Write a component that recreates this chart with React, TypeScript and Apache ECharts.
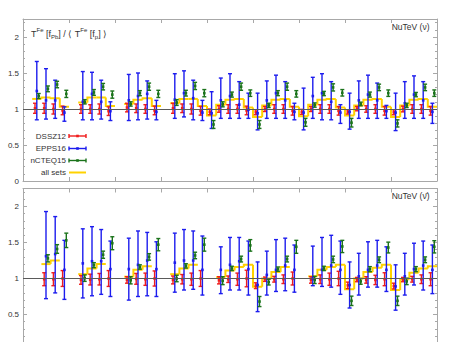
import React, { useEffect, useRef } from "react";
import * as echarts from "echarts";

// ---------- NuTeV (nu) panel ----------
const nuX = [0.3, 0.5, 0.7, 0.9, 1.3, 1.5, 1.7, 1.9, 2.3, 2.5, 2.7, 2.9, 3.3, 3.5, 3.7, 3.9, 4.1, 4.3, 4.5, 4.7, 4.9, 5.1, 5.3, 5.5, 5.7, 5.9, 6.1, 6.3, 6.5, 6.7, 6.9, 7.1, 7.3, 7.5, 7.7, 7.9, 8.1, 8.3, 8.5, 8.7, 8.9];
const nuRedVal = [1.01, 1.01, 1.0, 0.98, 1.0, 1.0, 1.0, 0.97, 1.02, 1.01, 1.0, 0.98, 1.01, 1.01, 1.0, 0.975, 0.96, 1.0, 1.0, 1.0, 0.98, 0.955, 1.0, 1.0, 1.0, 0.975, 0.96, 1.0, 1.0, 1.0, 0.975, 0.96, 1.005, 1.0, 1.0, 0.975, 0.955, 1.0, 1.0, 1.0, 0.975];
const nuRedErr = [0.07, 0.07, 0.07, 0.06, 0.06, 0.06, 0.07, 0.06, 0.06, 0.06, 0.06, 0.06, 0.07, 0.06, 0.07, 0.06, 0.04, 0.045, 0.06, 0.06, 0.06, 0.035, 0.035, 0.06, 0.06, 0.06, 0.035, 0.035, 0.06, 0.06, 0.06, 0.03, 0.03, 0.045, 0.06, 0.06, 0.035, 0.04, 0.06, 0.06, 0.06];
const nuBlueVal = [1.25, 1.12, 1.12, 0.95, 1.10, 1.21, 1.10, 0.97, 1.12, 1.18, 1.21, 0.96, 1.13, 1.22, 1.15, 0.95, 0.94, 1.12, 1.18, 1.06, 0.99, 0.94, 1.12, 1.22, 1.12, 0.96, 0.95, 1.18, 1.22, 1.10, 0.95, 0.96, 1.12, 1.20, 1.12, 0.97, 0.95, 1.08, 1.20, 1.12, 0.96];
const nuBlueLo = [0.85, 0.86, 0.87, 0.83, 0.85, 0.85, 0.86, 0.84, 0.84, 0.85, 0.86, 0.85, 0.87, 0.89, 0.85, 0.84, 0.73, 0.87, 0.87, 0.87, 0.87, 0.71, 0.87, 0.87, 0.87, 0.85, 0.71, 0.87, 0.85, 0.85, 0.80, 0.72, 0.87, 0.87, 0.87, 0.87, 0.70, 0.87, 0.87, 0.87, 0.80];
const nuBlueHi = [1.66, 1.56, 1.40, 1.03, 1.52, 1.51, 1.40, 1.10, 1.48, 1.50, 1.39, 1.12, 1.49, 1.53, 1.40, 1.12, 1.24, 1.43, 1.49, 1.38, 1.22, 1.22, 1.39, 1.47, 1.38, 1.08, 1.29, 1.44, 1.49, 1.38, 1.06, 1.22, 1.39, 1.47, 1.36, 1.05, 1.22, 1.38, 1.46, 1.38, 1.08];
const nuGreenVal = [1.18, 1.28, 1.34, 1.21, 1.10, 1.23, 1.31, 1.20, 1.07, 1.22, 1.31, 1.21, 1.09, 1.22, 1.32, 1.22, 0.785, 1.065, 1.20, 1.31, 1.22, 0.785, 1.05, 1.22, 1.31, 1.21, 0.815, 1.055, 1.215, 1.30, 1.225, 0.81, 1.07, 1.20, 1.30, 1.22, 0.80, 1.05, 1.20, 1.30, 1.22];
const nuGreenErr = [0.035, 0.04, 0.045, 0.05, 0.03, 0.04, 0.045, 0.05, 0.03, 0.035, 0.05, 0.05, 0.04, 0.04, 0.05, 0.05, 0.055, 0.035, 0.035, 0.05, 0.045, 0.055, 0.03, 0.035, 0.05, 0.045, 0.055, 0.03, 0.03, 0.05, 0.045, 0.06, 0.025, 0.035, 0.045, 0.045, 0.05, 0.03, 0.03, 0.045, 0.045];
const nuAll = [1.14, 1.16, 1.15, 1.03, 1.09, 1.16, 1.16, 1.04, 1.07, 1.13, 1.15, 1.04, 1.08, 1.14, 1.14, 1.04, 0.91, 1.06, 1.13, 1.14, 1.02, 0.89, 1.05, 1.13, 1.14, 1.03, 0.90, 1.06, 1.13, 1.14, 1.02, 0.91, 1.05, 1.13, 1.14, 1.03, 0.89, 1.05, 1.13, 1.14, 1.03];

// ---------- NuTeV (nubar) panel ----------
const nbX = [0.5, 0.7, 0.9, 1.3, 1.5, 1.7, 1.9, 2.3, 2.5, 2.7, 2.9, 3.3, 3.5, 3.7, 3.9, 4.3, 4.5, 4.7, 4.9, 5.1, 5.3, 5.5, 5.7, 5.9, 6.3, 6.5, 6.7, 6.9, 7.1, 7.3, 7.5, 7.7, 7.9, 8.1, 8.3, 8.5, 8.7, 8.9];
const nbRedVal = [0.99, 0.99, 1.0, 0.98, 0.985, 0.99, 1.0, 0.98, 0.995, 0.99, 1.0, 0.98, 0.99, 0.99, 1.0, 0.975, 0.99, 0.99, 1.0, 0.90, 0.99, 0.99, 0.99, 1.0, 0.98, 0.99, 0.99, 1.0, 0.905, 0.985, 0.98, 0.98, 0.99, 0.895, 0.985, 0.99, 0.99, 0.99];
const nbRedErr = [0.09, 0.09, 0.11, 0.06, 0.075, 0.08, 0.11, 0.045, 0.075, 0.085, 0.105, 0.055, 0.065, 0.085, 0.11, 0.05, 0.045, 0.085, 0.115, 0.04, 0.03, 0.04, 0.06, 0.09, 0.045, 0.06, 0.085, 0.1, 0.045, 0.03, 0.045, 0.065, 0.09, 0.04, 0.03, 0.04, 0.06, 0.09];
const nbBlueVal = [1.31, 1.34, 1.12, 1.21, 1.24, 1.24, 1.13, 1.13, 1.19, 1.25, 1.13, 1.22, 1.25, 1.25, 1.12, 1.12, 1.19, 1.24, 1.13, 0.91, 1.05, 1.12, 1.18, 1.12, 1.0, 1.12, 1.18, 1.12, 0.91, 1.03, 1.12, 1.18, 1.12, 0.89, 1.03, 1.13, 1.18, 1.12];
const nbBlueLo = [0.72, 0.80, 0.71, 0.73, 0.76, 0.78, 0.75, 0.70, 0.75, 0.76, 0.75, 0.81, 0.84, 0.85, 0.77, 0.79, 0.84, 0.84, 0.77, 0.54, 0.77, 0.82, 0.83, 0.81, 0.90, 0.89, 0.88, 0.78, 0.59, 0.77, 0.88, 0.88, 0.82, 0.56, 0.77, 0.91, 0.84, 0.79];
const nbBlueHi = [1.93, 1.86, 1.53, 1.69, 1.72, 1.68, 1.52, 1.56, 1.66, 1.64, 1.51, 1.63, 1.68, 1.66, 1.59, 1.44, 1.57, 1.57, 1.52, 1.23, 1.38, 1.54, 1.56, 1.465, 1.45, 1.57, 1.60, 1.52, 1.23, 1.35, 1.51, 1.53, 1.44, 1.19, 1.35, 1.49, 1.52, 1.465];
const nbGreenVal = [1.28, 1.41, 1.53, 1.005, 1.185, 1.33, 1.49, 0.975, 1.16, 1.30, 1.47, 1.0, 1.175, 1.32, 1.47, 0.97, 1.14, 1.27, 1.46, 0.68, 0.95, 1.13, 1.27, 1.44, 0.98, 1.14, 1.265, 1.445, 0.69, 0.96, 1.13, 1.26, 1.43, 0.69, 0.96, 1.13, 1.26, 1.44];
const nbGreenErr = [0.05, 0.06, 0.1, 0.045, 0.035, 0.05, 0.09, 0.05, 0.03, 0.045, 0.085, 0.045, 0.03, 0.045, 0.09, 0.055, 0.03, 0.04, 0.08, 0.07, 0.04, 0.03, 0.04, 0.09, 0.05, 0.03, 0.045, 0.085, 0.065, 0.04, 0.035, 0.04, 0.075, 0.065, 0.045, 0.035, 0.04, 0.085];
const nbAll: (number | null)[] = [1.20, 1.25, null, 1.06, 1.14, 1.20, null, 1.025, 1.12, 1.17, null, 1.06, 1.14, 1.19, null, 1.02, 1.11, 1.16, 1.19, 0.886, 1.0, 1.09, 1.16, null, 1.03, 1.12, 1.16, 1.19, 0.85, 1.0, 1.09, 1.15, 1.19, 0.84, 0.99, 1.08, 1.14, 1.17];

const setNames = ["DSSZ12", "EPPS16", "nCTEQ15", "all sets"];
const topTicks = [0, 0.5, 1, 1.5, 2];
const bottomTicks = [0.5, 1, 1.5, 2];

const FONT = "'Liberation Sans', Arial, sans-serif";
const RED = "#f01c1c";
const BLUE = "#1c1cee";
const GREEN = "#1b731b";
const YELLOW = "#ffd200";
const FRAME = "#a8a8a8";
const TXT = "#333";
const HALF_BIN = 0.1;

const asymItems = (xs: number[], v: number[], lo: number[], hi: number[]) => xs.map((x, i) => [x, v[i], lo[i], hi[i]]);
const symItems = (xs: number[], v: number[], e: number[]) => xs.map((x, i) => [x, v[i], v[i] - e[i], v[i] + e[i]]);
const stepItems = (xs: number[], v: (number | null)[]) => {
  const out: number[][] = [];
  xs.forEach((x, i) => {
    const val = v[i];
    if (val == null) return;
    const prev = i > 0 && v[i - 1] != null && x - xs[i - 1] < 0.25 ? (v[i - 1] as number) : val;
    out.push([x, val, prev]);
  });
  return out;
};

const errRender = (dx: number, color: string) => (params: any, api: any) => {
  const x = api.value(0), v = api.value(1), lo = api.value(2), hi = api.value(3);
  const c = api.coord([x, v]);
  const l = api.coord([x, lo]);
  const h = api.coord([x, hi]);
  const cx = c[0] + dx;
  const st = { stroke: color, lineWidth: 1.4 };
  return {
    type: "group",
    children: [
      { type: "line", shape: { x1: cx, y1: h[1], x2: cx, y2: l[1] }, style: st },
      { type: "line", shape: { x1: cx - 2, y1: h[1], x2: cx + 2, y2: h[1] }, style: st },
      { type: "line", shape: { x1: cx - 2, y1: l[1], x2: cx + 2, y2: l[1] }, style: st },
      { type: "rect", shape: { x: cx - 1.3, y: c[1] - 1.3, width: 2.6, height: 2.6 }, style: { fill: color } },
    ],
  };
};

const stepRender = (params: any, api: any) => {
  const x = api.value(0), v = api.value(1), p = api.value(2);
  const a = api.coord([x - HALF_BIN, v]);
  const b = api.coord([x + HALF_BIN, v]);
  const pp = api.coord([x - HALF_BIN, p]);
  return {
    type: "polyline",
    shape: { points: [pp, a, b] },
    style: { stroke: YELLOW, lineWidth: 2, fill: null },
  };
};

const xAxisDef = (gridIndex: number, position: string) => ({
  type: "value", gridIndex, position, min: 0, max: 9, interval: 1,
  axisLine: { show: true, onZero: false, lineStyle: { color: FRAME, width: 1 } },
  axisTick: { show: true, inside: true, length: 4, lineStyle: { color: FRAME } },
  axisLabel: { show: false }, splitLine: { show: false },
});
const yAxisDef = (gridIndex: number, position: string, labels: number[] | null) => ({
  type: "value", gridIndex, position, min: 0, max: 2.25, interval: 0.5,
  axisLine: { show: true, onZero: false, lineStyle: { color: FRAME, width: 1 } },
  axisTick: { show: true, inside: true, length: 4, lineStyle: { color: FRAME } },
  minorTick: { show: true, splitNumber: 5, length: 2, lineStyle: { color: FRAME } },
  axisLabel: {
    show: labels != null, margin: 4, fontSize: 8, color: TXT, fontFamily: FONT,
    formatter: (v: number) => (labels && labels.some((t) => Math.abs(t - v) < 1e-6) ? String(v) : ""),
  },
  splitLine: { show: false },
});

const panelSeries = (xi: number, yi: number, xs: number[], rv: number[], re: number[], bv: number[], bl: number[], bh: number[], gv: number[], ge: number[], all: (number | null)[]) => [
  { type: "custom", name: setNames[3], xAxisIndex: xi, yAxisIndex: yi, z: 2, renderItem: stepRender, encode: { x: 0, y: 1 }, data: stepItems(xs, all), itemStyle: { color: YELLOW } },
  { type: "custom", name: setNames[0], xAxisIndex: xi, yAxisIndex: yi, z: 3, renderItem: errRender(-1.8, RED), encode: { x: 0, y: [1, 2, 3] }, data: symItems(xs, rv, re), itemStyle: { color: RED } },
  {
    type: "custom", name: setNames[1], xAxisIndex: xi, yAxisIndex: yi, z: 3, renderItem: errRender(0, BLUE), encode: { x: 0, y: [1, 2, 3] }, data: asymItems(xs, bv, bl, bh), itemStyle: { color: BLUE },
    markLine: { silent: true, symbol: "none", label: { show: false }, lineStyle: { color: "#5a5a5a", width: 1, type: "solid" }, data: [{ yAxis: 1 }] },
  },
  { type: "custom", name: setNames[2], xAxisIndex: xi, yAxisIndex: yi, z: 3, renderItem: errRender(1.9, GREEN), encode: { x: 0, y: [1, 2, 3] }, data: symItems(xs, gv, ge), itemStyle: { color: GREEN } },
];

const legendEntry = (i: number, color: string, y: number, isLine: boolean) => {
  const x0 = 69, x1 = 86;
  const children: any[] = [
    { type: "text", x: 66, y, style: { text: setNames[i], align: "right", verticalAlign: "middle", textAlign: "right", textVerticalAlign: "middle", font: `8px ${FONT}`, fill: TXT } },
  ];
  if (isLine) {
    children.push({ type: "line", shape: { x1: x0, y1: y, x2: x1, y2: y }, style: { stroke: color, lineWidth: 2 } });
  } else {
    const st = { stroke: color, lineWidth: 1.4 };
    children.push({ type: "line", shape: { x1: x0, y1: y, x2: x1, y2: y }, style: st });
    children.push({ type: "line", shape: { x1: x0, y1: y - 2, x2: x0, y2: y + 2 }, style: st });
    children.push({ type: "line", shape: { x1: x1, y1: y - 2, x2: x1, y2: y + 2 }, style: st });
    children.push({ type: "rect", shape: { x: (x0 + x1) / 2 - 1.3, y: y - 1.3, width: 2.6, height: 2.6 }, style: { fill: color } });
  }
  return children;
};

export default function App() {
  const ref = useRef<HTMLDivElement>(null);
  useEffect(() => {
    if (!ref.current) return;
    const chart = echarts.init(ref.current, undefined, { renderer: "svg" });
    const option: any = {
      animation: false,
      backgroundColor: "#ffffff",
      grid: [
        { left: 23, right: 23, top: 19, height: 162 },
        { left: 23, right: 23, top: 188.5, height: 162 },
      ],
      xAxis: [xAxisDef(0, "bottom"), xAxisDef(0, "top"), xAxisDef(1, "bottom"), xAxisDef(1, "top")],
      yAxis: [yAxisDef(0, "left", topTicks), yAxisDef(0, "right", null), yAxisDef(1, "left", bottomTicks), yAxisDef(1, "right", null)],
      series: [
        ...panelSeries(0, 0, nuX, nuRedVal, nuRedErr, nuBlueVal, nuBlueLo, nuBlueHi, nuGreenVal, nuGreenErr, nuAll),
        ...panelSeries(2, 2, nbX, nbRedVal, nbRedErr, nbBlueVal, nbBlueLo, nbBlueHi, nbGreenVal, nbGreenErr, nbAll),
      ],
      graphic: [
        {
          type: "text", x: 31, y: 27,
          style: {
            text: "T{sup|Fe} [f{sub|Pb}] / \u27e8 T{sup|Fe} [f{sub|p}] \u27e9",
            font: `9px ${FONT}`, fill: TXT,
            rich: {
              sup: { fontSize: 6, fontFamily: FONT, fill: TXT, verticalAlign: "top", lineHeight: 13 },
              sub: { fontSize: 6, fontFamily: FONT, fill: TXT, verticalAlign: "bottom", lineHeight: 11 },
            },
          },
        },
        { type: "text", x: 429.5, y: 26.5, style: { text: "NuTeV (\u03bd)", align: "right", textAlign: "right", verticalAlign: "middle", textVerticalAlign: "middle", font: `8.5px ${FONT}`, fill: TXT } },
        { type: "text", x: 429.5, y: 196, style: { text: "NuTeV (\u03bd\u0304)", align: "right", textAlign: "right", verticalAlign: "middle", textVerticalAlign: "middle", font: `8.5px ${FONT}`, fill: TXT } },
        ...legendEntry(0, RED, 136, false),
        ...legendEntry(1, BLUE, 148.5, false),
        ...legendEntry(2, GREEN, 160.5, false),
        ...legendEntry(3, YELLOW, 172.5, true),
      ],
    };
    chart.setOption(option);
    return () => chart.dispose();
  }, []);
  return <div ref={ref} style={{ position: "fixed", left: 0, top: 0, width: 460, height: 360 }} />;
}
